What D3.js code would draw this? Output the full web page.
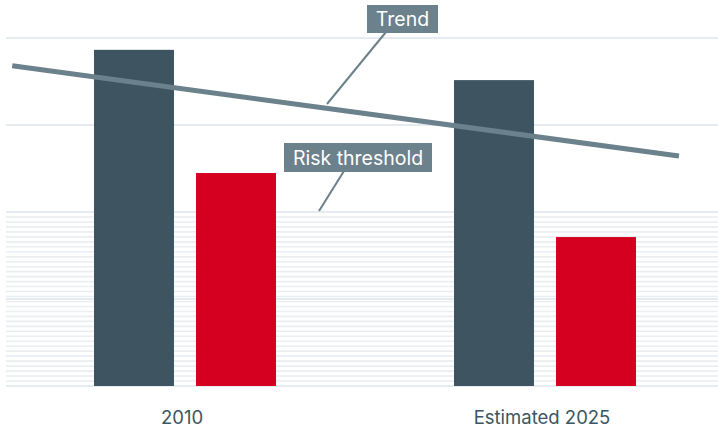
<!DOCTYPE html>
<html>
<head>
<meta charset="utf-8">
<script src="https://cdn.jsdelivr.net/npm/d3@7"></script>
<style>
  body { margin: 0; background: #fff; }
  svg text { font-family: Inter, "Noto Sans", sans-serif; }
</style>
</head>
<body>
<div id="chart"></div>
<script>
const categories = ["2010", "Estimated 2025"];
const seriesA = [96.6, 87.9];   // dark bars
const seriesB = [61.2, 42.8];   // red bars
const gridTicks = [0, 25, 50, 75, 100];
const riskThreshold = 50;
const trendIdx = [-0.48, 1.372];
const trendVals = [92.0, 66.1];

const width = 718, height = 430;

const svg = d3
  .select("#chart")
  .append("svg")
  .attr("width", width)
  .attr("height", height);

const y = d3.scaleLinear().domain([0, 100]).range([386, 38]);
const x = d3.scalePoint().domain(categories).range([5, 725]).padding(0.5);
const xIdx = d3.scaleLinear().domain([0, 1]).range([x(categories[0]), x(categories[1])]);
const xSub = d3.scaleBand().domain(["a", "b"]).range([-91, 91]).paddingInner(0.216);

const gridLeft = 6, gridRight = 718;

// risk band stripes
const stripeCount = 35;
const stripeStep = (y(0) - y(riskThreshold)) / stripeCount;
const stripes = d3.range(stripeCount).map((i) => y(riskThreshold) + i * stripeStep);
svg
  .append("g")
  .selectAll("line")
  .data(stripes)
  .enter()
  .append("line")
  .attr("x1", gridLeft)
  .attr("x2", gridRight)
  .attr("y1", (d) => d)
  .attr("y2", (d) => d)
  .attr("stroke", "#e9eef2")
  .attr("stroke-width", 1.6);

// major gridlines
svg
  .append("g")
  .selectAll("line")
  .data(gridTicks)
  .enter()
  .append("line")
  .attr("x1", gridLeft)
  .attr("x2", gridRight)
  .attr("y1", (d) => y(d))
  .attr("y2", (d) => y(d))
  .attr("stroke", "#e6ebef")
  .attr("stroke-width", 2);

// bars
const groups = svg
  .append("g")
  .selectAll("g")
  .data(categories)
  .enter()
  .append("g")
  .attr("transform", (d) => `translate(${x(d)},0)`);

groups
  .append("rect")
  .attr("x", xSub("a"))
  .attr("width", xSub.bandwidth())
  .attr("y", (d, i) => y(seriesA[i]))
  .attr("height", (d, i) => y(0) - y(seriesA[i]))
  .attr("fill", "#3e5461");

groups
  .append("rect")
  .attr("x", xSub("b"))
  .attr("width", xSub.bandwidth())
  .attr("y", (d, i) => y(seriesB[i]))
  .attr("height", (d, i) => y(0) - y(seriesB[i]))
  .attr("fill", "#d50020");

// category labels
groups
  .append("text")
  .attr("x", -3)
  .attr("y", 424)
  .attr("text-anchor", "middle")
  .attr("font-size", 18.5)
  .attr("fill", "#3d5560")
  .text((d) => d);

// trend line
const trendData = trendIdx.map((t, i) => [xIdx(t), y(trendVals[i])]);
svg
  .append("path")
  .attr("d", d3.line()(trendData))
  .attr("fill", "none")
  .attr("stroke", "#6b818c")
  .attr("stroke-width", 5);

// annotations
const annColor = "#6b818c";
let addNote = (label, bx, by, bw, bh, lx1, ly1, lx2, ly2) => {
  svg
    .append("line")
    .attr("x1", lx1)
    .attr("y1", ly1)
    .attr("x2", lx2)
    .attr("y2", ly2)
    .attr("stroke", annColor)
    .attr("stroke-width", 2);
  svg
    .append("rect")
    .attr("x", bx)
    .attr("y", by)
    .attr("width", bw)
    .attr("height", bh)
    .attr("fill", annColor);
  svg
    .append("text")
    .attr("x", bx + bw / 2)
    .attr("y", by + bh / 2 + 7)
    .attr("text-anchor", "middle")
    .attr("font-size", 19.5)
    .attr("fill", "#fff")
    .text(label);
};

addNote("Trend", 367, 5, 71, 28, 386, 32, 327, 104);
addNote("Risk threshold", 284, 143, 148, 29, 344, 171, 319, 211);
</script>
</body>
</html>
